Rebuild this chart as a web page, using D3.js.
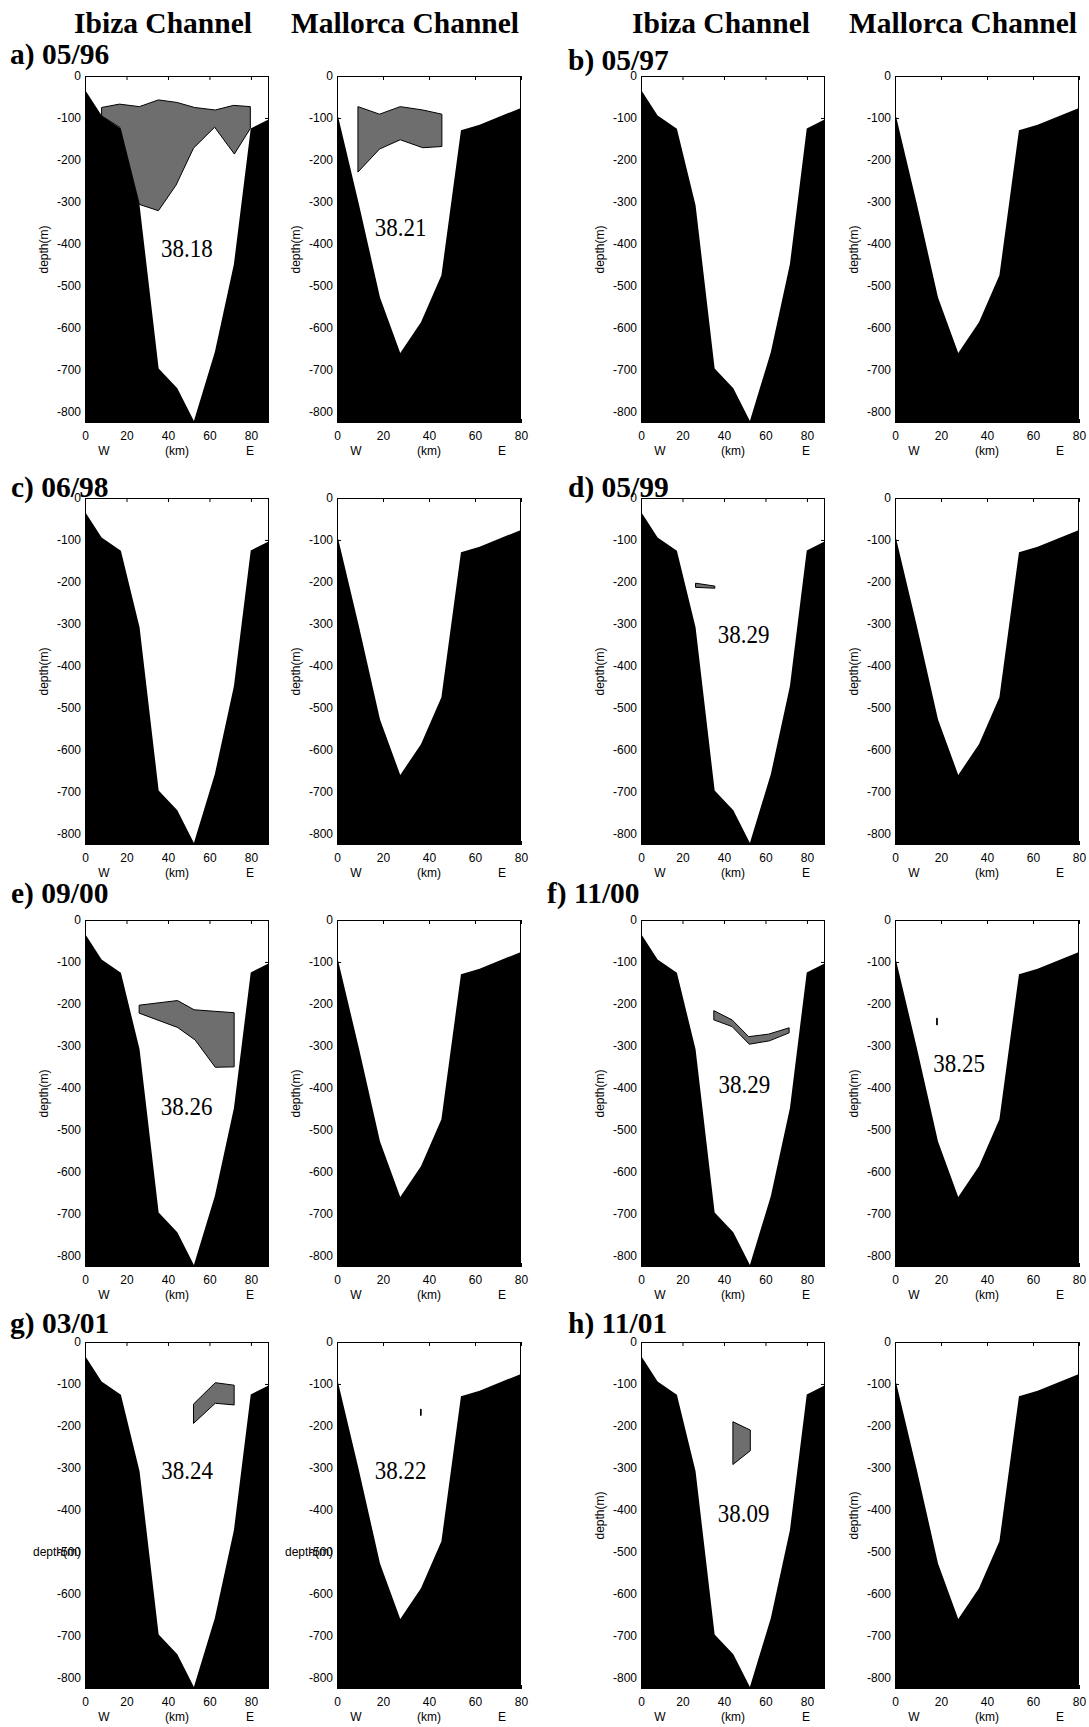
<!DOCTYPE html>
<html>
<head>
<meta charset="utf-8">
<script src="https://cdn.jsdelivr.net/npm/d3@7"></script>
<style>
  body { margin: 0; background: #fff; }
  svg { display: block; }
</style>
</head>
<body>
<script>
// Channel bathymetry sections (distance along section in km, depth in m)
const ibizaKm       = [0, 8, 17.3, 26.3, 35.5, 44.5, 52.5, 62.6, 71.8, 79.9, 88.7];
const ibizaDepth    = [-33, -94, -126, -308, -697, -744, -822, -658, -448, -125, -103];
const mallorcaKm    = [0, 9.5, 18.7, 27.5, 36.5, 45.4, 53.9, 62, 80];
const mallorcaDepth = [-86, -305, -528, -660, -587, -475, -129, -116, -76];

// Survey dates
const surveys = ["a) 05/96", "b) 05/97", "c) 06/98", "d) 05/99",
                 "e) 09/00", "f) 11/00", "g) 03/01", "h) 11/01"];

// Mean salinity of the water mass, where present, and where it is annotated (km, depth)
const ibizaSalinity    = ["38.18", null, null, "38.29", "38.26", "38.29", "38.24", "38.09"];
const mallorcaSalinity = ["38.21", null, null, null, null, "38.25", "38.22", null];
const ibizaLabelAt     = [[49.1, -431], null, null, [49.5, -346], [49, -465], [49.8, -412], [49.2, -326], [49.5, -428]];
const mallorcaLabelAt  = [[27.7, -381], null, null, null, null, [27.9, -362], [27.7, -326], null];

// Water-mass outlines (km, depth)
const ibizaPatches = [
  [[8, -75], [16.6, -67], [26.2, -73], [35.4, -57], [44.3, -63], [52.8, -75], [62.8, -81], [71.6, -70],
   [79.7, -73], [79.7, -125], [72, -186], [62.5, -122], [52.3, -172], [43.9, -260], [35.4, -321],
   [26.2, -306], [16.9, -123], [8, -95]],
  null,
  null,
  [[26.3, -203], [35.6, -210], [35.6, -215], [26.3, -213]],
  [[26.1, -203], [44.6, -192], [52.6, -214], [71.9, -221], [71.9, -350], [62.8, -351], [53.1, -286],
   [44.6, -256], [26.1, -222]],
  [[35.1, -216], [43.9, -238], [51.9, -278], [61.5, -272], [71.4, -257], [71.4, -269], [61.9, -288],
   [52.2, -296], [43.9, -254], [35.1, -238]],
  [[52.3, -148], [62.8, -97], [71.9, -103], [71.9, -150], [62.8, -146], [52.3, -194]],
  [[44.3, -190], [52.7, -210], [52.7, -259], [44.3, -292]]
];
const mallorcaPatches = [
  [[9.1, -73], [18.5, -91], [27.5, -73], [37.3, -81], [45.6, -91], [45.6, -168], [37.3, -171],
   [27.5, -152], [18.5, -174], [9.1, -229]],
  null, null, null, null,
  [[18.1, -234], [18.4, -234], [18.4, -250], [18.1, -250]],
  [[36.3, -160], [36.6, -160], [36.6, -175], [36.3, -175]],
  null
];

// Axis ranges and ticks
const depthTicks = [0, -100, -200, -300, -400, -500, -600, -700, -800];
const kmTicks = [0, 20, 40, 60, 80];
const depthMax = -827;
const ibizaKmMax = 88.7;
const mallorcaKmMax = 80;
const channels = ["Ibiza Channel", "Mallorca Channel"];

// ---- layout ----
const W = 1089, H = 1727;
const rowTop = [76, 498, 920, 1342];
const plotH = 347, plotW = 184;
const groupLeft = [[85, 337], [641, 895]];
const headerX = [[163, 405], [721, 963]];
const surveyLabelX = [10, 568, 11, 568, 11, 547, 10, 568];
const surveyLabelY = [64, 70, 497, 497, 903, 903, 1333, 1333];

const SERIF = "'Liberation Serif', 'Times New Roman', Times, serif";
const SANS = "'Liberation Sans', Arial, Helvetica, sans-serif";
const PATCH_FILL = "#6e6e6e";

const svg = d3.select("body").append("svg")
  .attr("width", W).attr("height", H)
  .attr("viewBox", `0 0 ${W} ${H}`);
svg.append("rect").attr("width", W).attr("height", H).attr("fill", "#fff");

// Column headers
[0, 1].forEach(g => {
  channels.forEach((name, c) => {
    svg.append("text")
      .attr("x", headerX[g][c]).attr("y", 33)
      .attr("text-anchor", "middle")
      .attr("font-family", SERIF).attr("font-weight", "bold")
      .attr("font-size", 29.5)
      .text(name);
  });
});

function drawPanel(i, c) {
  const row = Math.floor(i / 2), g = i % 2;
  const left = groupLeft[g][c], top = rowTop[row];
  const isIbiza = c === 0;
  const kmMax = isIbiza ? ibizaKmMax : mallorcaKmMax;
  const kms = isIbiza ? ibizaKm : mallorcaKm;
  const deps = isIbiza ? ibizaDepth : mallorcaDepth;
  const patch = isIbiza ? ibizaPatches[i] : mallorcaPatches[i];
  const sal = isIbiza ? ibizaSalinity[i] : mallorcaSalinity[i];
  const salAt = isIbiza ? ibizaLabelAt[i] : mallorcaLabelAt[i];

  const x = d3.scaleLinear().domain([0, kmMax]).range([left, left + plotW]);
  const y = d3.scaleLinear().domain([0, depthMax]).range([top, top + plotH]);

  const panel = svg.append("g");
  const clipId = `clip-${i}-${c}`;
  panel.append("clipPath").attr("id", clipId)
    .append("rect").attr("x", left).attr("y", top).attr("width", plotW).attr("height", plotH);

  // Inward ticks, drawn beneath the sea floor
  const fmt = d => String(d);
  const axL = panel.append("g").attr("transform", `translate(${left},0)`)
    .call(d3.axisLeft(y).tickValues(depthTicks).tickSizeInner(-4).tickSizeOuter(0).tickPadding(4).tickFormat(fmt));
  const axR = panel.append("g").attr("transform", `translate(${left + plotW},0)`)
    .call(d3.axisRight(y).tickValues(depthTicks).tickSizeInner(-4).tickSizeOuter(0).tickFormat(""));
  const axT = panel.append("g").attr("transform", `translate(0,${top})`)
    .call(d3.axisTop(x).tickValues(kmTicks).tickSizeInner(-4).tickSizeOuter(0).tickFormat(""));
  const axB = panel.append("g").attr("transform", `translate(0,${top + plotH})`)
    .call(d3.axisBottom(x).tickValues(kmTicks).tickSizeInner(-4).tickSizeOuter(0).tickPadding(8).tickFormat(fmt));
  [axL, axR, axT, axB].forEach(a => {
    a.attr("font-family", SANS).attr("font-size", 12);
    a.selectAll("text").attr("fill", "#000");
    a.selectAll("line").attr("stroke", "#000");
    a.select(".domain").remove();
  });

  // Sea floor
  const area = d3.area()
    .x((d, k) => x(kms[k]))
    .y0(y(depthMax) + 2)
    .y1(d => y(d));
  panel.append("path")
    .attr("clip-path", `url(#${clipId})`)
    .attr("d", area(deps))
    .attr("fill", "#000");

  // Water mass outline
  if (patch) {
    const line = d3.line().x(d => x(d[0])).y(d => y(d[1]));
    panel.append("path")
      .attr("clip-path", `url(#${clipId})`)
      .attr("d", line(patch) + "Z")
      .attr("fill", PATCH_FILL)
      .attr("stroke", "#000")
      .attr("stroke-width", 1)
      .attr("stroke-linejoin", "round");
  }

  // Axes box
  panel.append("rect")
    .attr("x", left + 0.5).attr("y", top + 0.5)
    .attr("width", plotW - 1).attr("height", plotH - 1)
    .attr("fill", "none").attr("stroke", "#000").attr("stroke-width", 1);

  // Salinity annotation
  if (sal) {
    panel.append("text")
      .attr("transform", `translate(${x(salAt[0])},${y(salAt[1])}) scale(1,1.12)`)
      .attr("text-anchor", "middle")
      .attr("font-family", SERIF).attr("font-size", 23)
      .text(sal);
  }

  // Axis titles
  if (i === 6) {
    panel.append("text")
      .attr("x", left - 4).attr("y", y(-500) + 4.5)
      .attr("text-anchor", "end")
      .attr("font-family", SANS).attr("font-size", 12)
      .text("depth(m)");
  } else {
    panel.append("text")
      .attr("transform", `translate(${left - 41},${top + plotH / 2}) rotate(-90)`)
      .attr("dy", "0.35em")
      .attr("text-anchor", "middle")
      .attr("font-family", SANS).attr("font-size", 12)
      .text("depth(m)");
  }
  const cx = left + plotW / 2, by = top + plotH + 32;
  [["W", -73], ["(km)", 0], ["E", 73]].forEach(([t, dx]) => {
    panel.append("text")
      .attr("x", cx + dx).attr("y", by)
      .attr("text-anchor", "middle")
      .attr("font-family", SANS).attr("font-size", 12)
      .text(t);
  });
}

surveys.forEach((s, i) => {
  drawPanel(i, 0);
  drawPanel(i, 1);
  svg.append("text")
    .attr("x", surveyLabelX[i]).attr("y", surveyLabelY[i])
    .attr("font-family", SERIF).attr("font-weight", "bold")
    .attr("font-size", 29.5)
    .text(s);
});
</script>
</body>
</html>
